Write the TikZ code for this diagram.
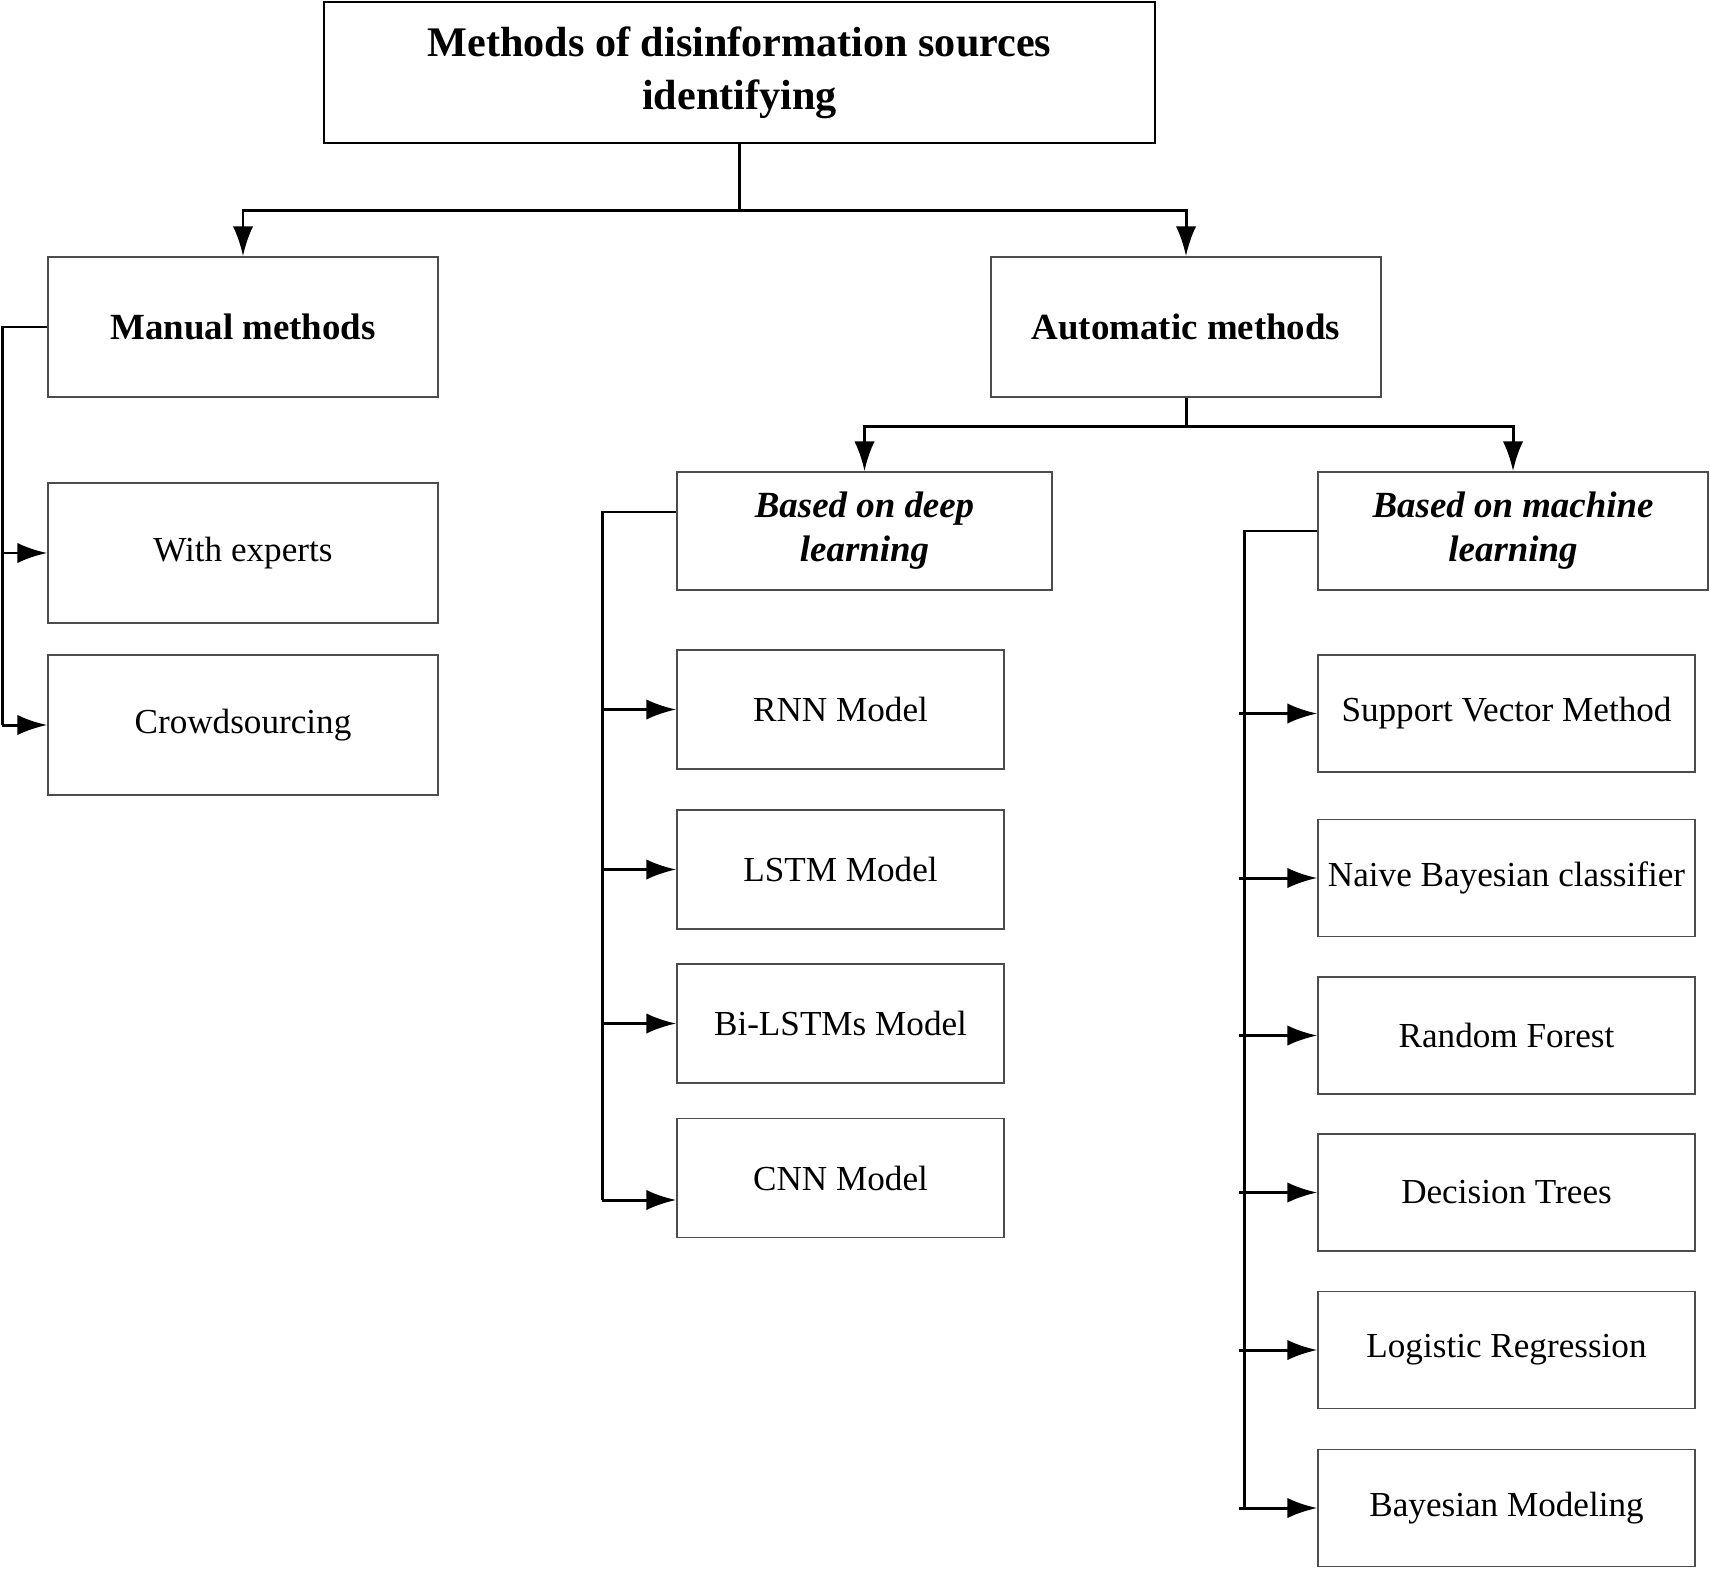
\documentclass[tikz,border=0pt]{standalone}
\usepackage{fontspec}
\setmainfont{Liberation Serif}
\usetikzlibrary{arrows.meta}

\begin{document}
\begin{tikzpicture}[
        >={Latex[length=8.5pt,width=5.8pt]},
        font=\fontsize{10}{12}\selectfont,
        every node/.style={align=center},
        box/.style={draw=black!70, line width=0.45pt, inner sep=2pt},
        headbox/.style={box, font=\fontsize{10.5}{13}\selectfont\bfseries},
        subbox/.style={box, font=\fontsize{10.5}{12.5}\selectfont\bfseries\itshape},
        conn/.style={line width=0.85pt},
        arr/.style={->, line width=0.85pt}
    ]

        % --- Rahmen ---
        \useasboundingbox (0,0) rectangle (17.10,-15.68);

        % --- Koordinaten-Definition ---
        % X-Positionen der Spalten
        \def\titlex{7.395}
        \def\manualx{2.43}
        \def\autox{11.86}
        \def\deepx{8.645}
        \def\deepitemx{8.405}
        \def\mlx{15.13}
        \def\mlitemx{15.065}

        % Y-Positionen der Ebenen
        \def\yTitle{-0.725}
        \def\yHead{-3.27}
        \def\ySub{-5.31}

        % --- Wurzel ---
        \node[box, draw=black, line width=0.8pt, minimum width=8.31cm, minimum height=1.41cm,
              font=\fontsize{12}{15}\selectfont\bfseries]
            (title) at (\titlex, \yTitle) {Methods of disinformation sources\\identifying};

        % --- Hauptgruppen ---
        \node[headbox, minimum width=3.90cm, minimum height=1.40cm] (manual) at (\manualx, \yHead) {Manual methods};
        \node[headbox, minimum width=3.90cm, minimum height=1.40cm] (auto) at (\autox, \yHead) {Automatic methods};

        % --- Untergruppen ---
        \node[subbox, minimum width=3.75cm, minimum height=1.18cm] (deep) at (\deepx, \ySub) {Based on deep\\learning};
        \node[subbox, minimum width=3.90cm, minimum height=1.18cm] (ml) at (\mlx, \ySub) {Based on machine\\learning};

        % --- Manuelle Methoden ---
        \node[box, minimum width=3.90cm, minimum height=1.40cm] (experts) at (\manualx, -5.53) {With experts};
        \node[box, minimum width=3.90cm, minimum height=1.40cm] (crowd) at (\manualx, -7.25) {Crowdsourcing};

        % --- Deep Learning ---
        \node[box, minimum width=3.27cm, minimum height=1.19cm] (rnn) at (\deepitemx, -7.095) {RNN Model};
        \node[box, minimum width=3.27cm, minimum height=1.19cm] (lstm) at (\deepitemx, -8.695) {LSTM Model};
        \node[box, minimum width=3.27cm, minimum height=1.19cm] (bilstm) at (\deepitemx, -10.235) {Bi-LSTMs Model};
        \node[box, minimum width=3.27cm, minimum height=1.19cm] (cnn) at (\deepitemx, -11.78) {CNN Model};

        % --- Machine Learning ---
        \node[box, minimum width=3.77cm, minimum height=1.17cm] (svm) at (\mlitemx, -7.135) {Support Vector Method};
        \node[box, minimum width=3.77cm, minimum height=1.17cm] (nbc) at (\mlitemx, -8.78) {Naive Bayesian classifier};
        \node[box, minimum width=3.77cm, minimum height=1.17cm] (rf) at (\mlitemx, -10.355) {Random Forest};
        \node[box, minimum width=3.77cm, minimum height=1.17cm] (dt) at (\mlitemx, -11.925) {Decision Trees};
        \node[box, minimum width=3.77cm, minimum height=1.17cm] (lr) at (\mlitemx, -13.50) {Logistic Regression};
        \node[box, minimum width=3.77cm, minimum height=1.17cm] (bm) at (\mlitemx, -15.08) {Bayesian Modeling};

        % --- Verbindungen oben ---
        \draw[conn] (title.south) -- ++(0,-0.66) coordinate (topjoin);
        \draw[arr] (topjoin) -| (manual.north);
        \draw[arr] (topjoin) -| (auto.north);

        \draw[conn] (auto.south) -- ++(0,-0.29) coordinate (autojoin);
        \draw[arr] (autojoin) -| (deep.north);
        \draw[arr] (autojoin) -| (ml.north);

        % --- Zweig: Manuell ---
        \draw[conn] (manual.west) -- ++(-0.45,0) coordinate (mantrunk) -- (mantrunk |- crowd.west);
        \draw[arr] (mantrunk |- experts.west) -- (experts.west);
        \draw[arr] (mantrunk |- crowd.west) -- (crowd.west);

        % --- Zweig: Deep Learning ---
        \coordinate (deepout) at ([yshift=0.19cm]deep.west);
        \coordinate (cnnin) at ([yshift=-0.22cm]cnn.west);
        \draw[conn] (deepout) -- ++(-0.74,0) coordinate (deeptrunk) -- (deeptrunk |- cnnin);
        \draw[arr] (deeptrunk |- rnn.west) -- (rnn.west);
        \draw[arr] (deeptrunk |- lstm.west) -- (lstm.west);
        \draw[arr] (deeptrunk |- bilstm.west) -- (bilstm.west);
        \draw[arr] (deeptrunk |- cnnin) -- (cnnin);

        % --- Zweig: Machine Learning ---
        \draw[conn] (ml.west) -- ++(-0.73,0) coordinate (mltrunk) -- (mltrunk |- bm.west);
        \draw[arr] ([xshift=-0.05cm]mltrunk |- svm.west) -- (svm.west);
        \draw[arr] ([xshift=-0.05cm]mltrunk |- nbc.west) -- (nbc.west);
        \draw[arr] ([xshift=-0.05cm]mltrunk |- rf.west) -- (rf.west);
        \draw[arr] ([xshift=-0.05cm]mltrunk |- dt.west) -- (dt.west);
        \draw[arr] ([xshift=-0.05cm]mltrunk |- lr.west) -- (lr.west);
        \draw[arr] ([xshift=-0.05cm]mltrunk |- bm.west) -- (bm.west);

    \end{tikzpicture}
\end{document}
